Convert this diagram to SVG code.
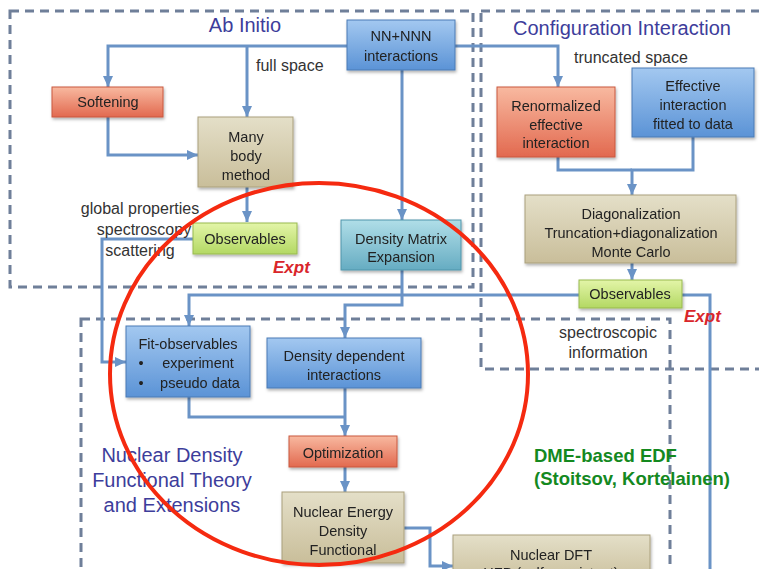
<svg xmlns="http://www.w3.org/2000/svg" width="759" height="569" viewBox="0 0 759 569">
<style>
.dash{fill:none;stroke:#6f7f99;stroke-width:3;stroke-dasharray:9 6}
.con{fill:none;stroke:#6a93c6;stroke-width:3}
.arr{marker-end:url(#ah)}
.bt{font-family:"Liberation Sans",Arial,sans-serif;font-size:14.5px;fill:#222;text-anchor:middle}
.lbl{font-family:"Liberation Sans",Arial,sans-serif;font-size:16px;fill:#333;}
.ttl{font-family:"Liberation Sans",Arial,sans-serif;font-size:20px;fill:#3d3d9b;text-anchor:middle}
.expt{font-family:"Liberation Sans",Arial,sans-serif;font-size:17px;font-weight:bold;font-style:italic;fill:#d9262b}
.dme{font-family:"Liberation Sans",Arial,sans-serif;font-size:18.5px;font-weight:bold;fill:#14891f}
.blue{fill:url(#gb);stroke:#4a7bb5;stroke-width:1}
.red{fill:url(#gr);stroke:#c9583f;stroke-width:1}
.tan{fill:url(#gt);stroke:#aaa07c;stroke-width:1}
.green{fill:url(#gg);stroke:#98b94f;stroke-width:1}
.teal{fill:url(#gc);stroke:#4f94aa;stroke-width:1}
.box{filter:url(#sh)}
</style>
<defs>
<linearGradient id="gb" x1="0" y1="0" x2="0" y2="1"><stop offset="0" stop-color="#a3c8f0"/><stop offset="1" stop-color="#5b93d6"/></linearGradient>
<linearGradient id="gr" x1="0" y1="0" x2="0" y2="1"><stop offset="0" stop-color="#f8b9a0"/><stop offset="1" stop-color="#e2694f"/></linearGradient>
<linearGradient id="gt" x1="0" y1="0" x2="0" y2="1"><stop offset="0" stop-color="#e4dfc8"/><stop offset="1" stop-color="#c9be9a"/></linearGradient>
<linearGradient id="gg" x1="0" y1="0" x2="0" y2="1"><stop offset="0" stop-color="#e3f5a8"/><stop offset="1" stop-color="#b3d863"/></linearGradient>
<linearGradient id="gc" x1="0" y1="0" x2="0" y2="1"><stop offset="0" stop-color="#b0dee8"/><stop offset="1" stop-color="#66acc2"/></linearGradient>
<filter id="sh" x="-10%" y="-10%" width="120%" height="130%"><feDropShadow dx="1" dy="2" stdDeviation="1.5" flood-color="#000" flood-opacity="0.3"/></filter>
<marker id="ah" markerUnits="userSpaceOnUse" markerWidth="12" markerHeight="10" refX="11" refY="5" orient="auto"><path d="M0,0 L11,5 L0,10 Z" fill="#6a93c6"/></marker>
</defs>

<g id="regions">
<rect class="dash" x="10" y="11" width="463" height="276"/>
<rect class="dash" x="481" y="11" width="300" height="358"/>
<rect class="dash" x="81" y="319" width="589" height="270"/>
</g>

<g id="connectors">
<path class="con arr" d="M347,46 H108 V87"/>
<path class="con arr" d="M247,46 V117"/>
<path class="con arr" d="M455,46 H558 V87"/>
<path class="con arr" d="M402,70 V220"/>
<path class="con arr" d="M108,117 V155 H198"/>
<path class="con arr" d="M247,187 V222"/>
<path class="con arr" d="M193,239 H102 V362 H126"/>
<path class="con arr" d="M402,270 V305 H345 V338"/>
<path class="con arr" d="M710,569 V295 H189 V326"/>
<path class="con" d="M189,397 V417 H345"/>
<path class="con arr" d="M345,388 V436"/>
<path class="con arr" d="M345,467 V492"/>
<path class="con arr" d="M404,528 H430 V566 H453"/>
<path class="con" d="M558,157 V170 H632"/>
<path class="con arr" d="M693,137 V170 H632 V195"/>
<path class="con arr" d="M632,263 V280"/>
</g>

<g id="titles">
<text class="ttl" x="245" y="32">Ab Initio</text>
<text class="ttl" x="622" y="35">Configuration Interaction</text>
<text class="ttl" x="172" y="462">Nuclear Density</text>
<text class="ttl" x="172" y="487">Functional Theory</text>
<text class="ttl" x="172" y="512">and Extensions</text>
</g>

<g id="labels">
<text class="lbl" x="256" y="71">full space</text>
<text class="lbl" x="574" y="63">truncated space</text>
<text class="lbl" x="140" y="214" text-anchor="middle">global properties</text>
<text class="lbl" x="144" y="235" text-anchor="middle">spectroscopy</text>
<text class="lbl" x="140" y="256" text-anchor="middle">scattering</text>
<text class="lbl" x="608" y="338" text-anchor="middle">spectroscopic</text>
<text class="lbl" x="608" y="358" text-anchor="middle">information</text>
<text class="expt" x="273" y="273">Expt</text>
<text class="expt" x="684" y="322">Expt</text>
<text class="dme" x="534" y="462">DME-based EDF</text>
<text class="dme" x="534" y="485">(Stoitsov, Kortelainen)</text>
</g>

<g id="nn" class="box"><rect class="blue" x="347" y="20" width="108" height="50"/><text class="bt" x="401" y="41">NN+NNN</text><text class="bt" x="401" y="61">interactions</text></g>
<g id="softening" class="box"><rect class="red" x="52" y="87" width="111" height="30"/><text class="bt" x="108" y="107">Softening</text></g>
<g id="manybody" class="box"><rect class="tan" x="198" y="117" width="95" height="70"/><text class="bt" x="246" y="142">Many</text><text class="bt" x="246" y="161">body</text><text class="bt" x="246" y="180">method</text></g>
<g id="obs-ai" class="box"><rect class="green" x="193" y="223" width="104" height="31"/><text class="bt" x="245" y="244">Observables</text></g>
<g id="dme-exp" class="box"><rect class="teal" x="341" y="220" width="120" height="50"/><text class="bt" x="401" y="244">Density Matrix</text><text class="bt" x="401" y="262">Expansion</text></g>
<g id="renorm" class="box"><rect class="red" x="497" y="87" width="118" height="70"/><text class="bt" x="556" y="111">Renormalized</text><text class="bt" x="556" y="130">effective</text><text class="bt" x="556" y="148">interaction</text></g>
<g id="effective" class="box"><rect class="blue" x="632" y="68" width="122" height="69"/><text class="bt" x="693" y="91">Effective</text><text class="bt" x="693" y="110">interaction</text><text class="bt" x="693" y="129">fitted to data</text></g>
<g id="diag" class="box"><rect class="tan" x="525" y="195" width="211" height="68"/><text class="bt" x="631" y="219">Diagonalization</text><text class="bt" x="631" y="238">Truncation+diagonalization</text><text class="bt" x="631" y="257">Monte Carlo</text></g>
<g id="obs-ci" class="box"><rect class="green" x="579" y="280" width="103" height="28"/><text class="bt" x="630" y="299">Observables</text></g>
<g id="fitobs" class="box"><rect class="blue" x="126" y="326" width="124" height="71"/><text class="bt" x="188" y="349">Fit-observables</text><text class="bt" x="141" y="368">•</text><text class="bt" x="198" y="368">experiment</text><text class="bt" x="141" y="388">•</text><text class="bt" x="200" y="388">pseudo data</text></g>
<g id="densdep" class="box"><rect class="blue" x="267" y="338" width="154" height="50"/><text class="bt" x="344" y="361">Density dependent</text><text class="bt" x="344" y="380">interactions</text></g>
<g id="optim" class="box"><rect class="red" x="289" y="436" width="108" height="31"/><text class="bt" x="343" y="458">Optimization</text></g>
<g id="nedf" class="box"><rect class="tan" x="282" y="492" width="122" height="71"/><text class="bt" x="343" y="517">Nuclear Energy</text><text class="bt" x="343" y="536">Density</text><text class="bt" x="343" y="555">Functional</text></g>
<g id="ndft" class="box"><rect class="tan" x="453" y="535" width="197" height="50"/><text class="bt" x="551" y="560">Nuclear DFT</text><text class="bt" x="551" y="578">HFB (self-consistent)</text></g>

<ellipse id="highlight" cx="319" cy="374" rx="209" ry="191" fill="none" stroke="#f52a10" stroke-width="4"/>
</svg>
